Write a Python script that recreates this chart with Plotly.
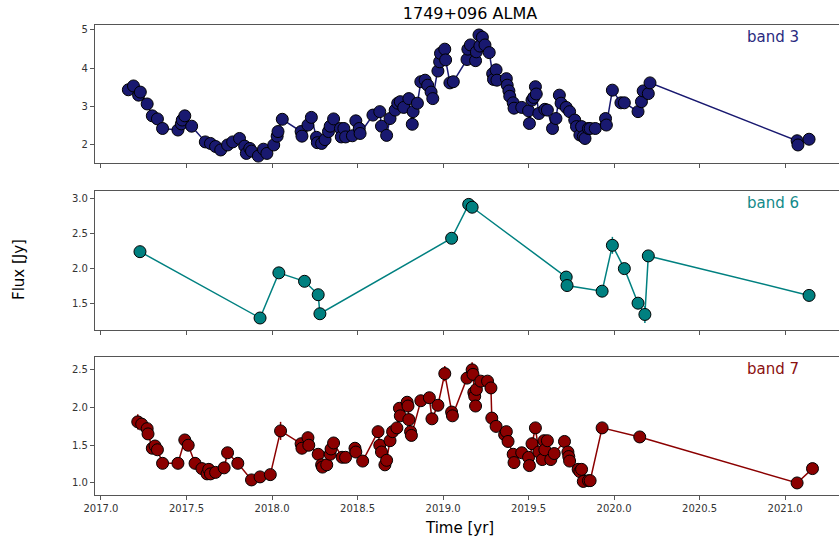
import plotly.graph_objects as go
from plotly.subplots import make_subplots

# ---------------- data ----------------
b3_time = [2017.16, 2017.19, 2017.22, 2017.23, 2017.27, 2017.30, 2017.33, 2017.36, 2017.45, 2017.47,
           2017.475, 2017.49, 2017.53, 2017.61, 2017.64, 2017.67, 2017.70, 2017.74, 2017.77, 2017.81,
           2017.84, 2017.85, 2017.87, 2017.88, 2017.92, 2017.95, 2017.97, 2018.01, 2018.03, 2018.035,
           2018.06, 2018.17, 2018.175, 2018.21, 2018.23, 2018.26, 2018.265, 2018.29, 2018.31, 2018.33,
           2018.34, 2018.36, 2018.40, 2018.405, 2018.42, 2018.43, 2018.47, 2018.49, 2018.51, 2018.515,
           2018.59, 2018.63, 2018.64, 2018.67, 2018.69, 2018.72, 2018.735, 2018.75, 2018.77, 2018.80,
           2018.82, 2018.825, 2018.85, 2018.87, 2018.895, 2018.91, 2018.93, 2018.94, 2018.97, 2018.98,
           2018.985, 2019.01, 2019.015, 2019.04, 2019.06, 2019.14, 2019.145, 2019.16, 2019.19, 2019.195,
           2019.21, 2019.215, 2019.23, 2019.245, 2019.27, 2019.29, 2019.295, 2019.31, 2019.315, 2019.37,
           2019.375, 2019.385, 2019.39, 2019.41, 2019.415, 2019.46, 2019.50, 2019.505, 2019.52, 2019.53,
           2019.54, 2019.545, 2019.56, 2019.595, 2019.61, 2019.64, 2019.66, 2019.68, 2019.69, 2019.72,
           2019.74, 2019.77, 2019.78, 2019.80, 2019.81, 2019.82, 2019.83, 2019.85, 2019.86, 2019.89,
           2019.95, 2019.955, 2019.99, 2020.04, 2020.06, 2020.14, 2020.16, 2020.17, 2020.20, 2020.21,
           2021.07, 2021.075, 2021.14]
b3_flux = [3.44, 3.54, 3.30, 3.38, 3.07, 2.76, 2.68, 2.43, 2.39, 2.55,
           2.65, 2.76, 2.49, 2.08, 2.04, 1.96, 1.87, 2.00, 2.08, 2.17,
           1.97, 1.78, 1.91, 1.84, 1.71, 1.89, 1.78, 2.00, 2.23, 2.35,
           2.67, 2.35, 2.23, 2.52, 2.72, 2.20, 2.06, 2.04, 2.14, 2.35,
           2.49, 2.68, 2.43, 2.21, 2.43, 2.21, 2.24, 2.63, 2.43, 2.30,
           2.78, 2.87, 2.49, 2.25, 2.69, 2.91, 3.09, 3.13, 2.98, 3.21,
           2.54, 2.87, 3.09, 3.65, 3.69, 3.56, 3.38, 3.21, 3.93, 4.17,
           4.39, 4.50, 4.22, 3.62, 3.65, 4.23, 4.50, 4.61, 4.20, 4.43,
           4.87, 4.58, 4.81, 4.61, 4.41, 3.86, 3.71, 3.96, 3.69, 3.73,
           3.56, 3.41, 3.27, 3.10, 2.96, 2.98, 2.89, 2.56, 3.17, 3.24,
           3.52, 3.33, 2.82, 2.93, 2.91, 2.43, 2.69, 3.30, 3.09, 2.98,
           2.87, 2.65, 2.48, 2.26, 2.48, 2.22, 2.17, 2.43, 2.43, 2.43,
           2.69, 2.52, 3.43, 3.10, 3.10, 2.87, 3.13, 3.41, 3.34, 3.62,
           2.11, 2.00, 2.15]

b6_time = [2017.228, 2017.93, 2018.04, 2018.19, 2018.27, 2018.28, 2019.05, 2019.15, 2019.17,
           2019.72, 2019.725, 2019.93, 2019.99, 2020.06, 2020.14, 2020.18, 2020.20, 2021.14]
b6_flux = [2.24, 1.30, 1.94, 1.82, 1.63, 1.36, 2.43, 2.91, 2.87,
           1.88, 1.76, 1.68, 2.33, 2.00, 1.51, 1.35, 2.18, 1.62]
b6_err = [0.03, 0.03, 0.03, 0.03, 0.04, 0.05, 0.04, 0.08, 0.04,
          0.04, 0.05, 0.04, 0.12, 0.04, 0.04, 0.12, 0.04, 0.03]

b7_time = [2017.215, 2017.238, 2017.27, 2017.275, 2017.30, 2017.316, 2017.33, 2017.36, 2017.45, 2017.49,
           2017.51, 2017.55, 2017.59, 2017.62, 2017.63, 2017.64, 2017.67, 2017.72, 2017.74, 2017.80,
           2017.88, 2017.93, 2017.99, 2018.05, 2018.17, 2018.175, 2018.21, 2018.215, 2018.27, 2018.29,
           2018.295, 2018.32, 2018.34, 2018.345, 2018.36, 2018.41, 2018.43, 2018.485, 2018.49, 2018.53,
           2018.62, 2018.63, 2018.64, 2018.66, 2018.67, 2018.69, 2018.705, 2018.73, 2018.745, 2018.75,
           2018.79, 2018.795, 2018.80, 2018.81, 2018.815, 2018.87, 2018.92, 2018.935, 2018.97, 2019.01,
           2019.05, 2019.055, 2019.14, 2019.17, 2019.175, 2019.18, 2019.185, 2019.19, 2019.195, 2019.22,
           2019.26, 2019.28, 2019.285, 2019.31, 2019.36, 2019.37, 2019.38, 2019.41, 2019.415, 2019.46,
           2019.50, 2019.505, 2019.52, 2019.54, 2019.56, 2019.58, 2019.59, 2019.595, 2019.61, 2019.63,
           2019.65, 2019.71, 2019.73, 2019.735, 2019.74, 2019.79, 2019.80, 2019.81, 2019.82, 2019.85,
           2019.86, 2019.93, 2020.15, 2021.07, 2021.16]
b7_flux = [1.81, 1.78, 1.72, 1.65, 1.46, 1.49, 1.44, 1.26, 1.26, 1.57,
           1.50, 1.26, 1.19, 1.12, 1.18, 1.12, 1.14, 1.20, 1.40, 1.26,
           1.04, 1.08, 1.11, 1.69, 1.52, 1.46, 1.60, 1.50, 1.38, 1.24,
           1.21, 1.24, 1.38, 1.45, 1.53, 1.34, 1.34, 1.46, 1.41, 1.29,
           1.68, 1.50, 1.41, 1.24, 1.30, 1.56, 1.68, 1.73, 1.99, 1.89,
           2.07, 2.02, 1.84, 1.68, 1.63, 2.09, 2.13, 1.85, 2.03, 2.45,
           1.94, 1.89, 2.39, 2.50, 2.44, 2.20, 2.15, 2.02, 2.24, 2.35,
           2.35, 2.26, 1.86, 1.75, 1.64, 1.68, 1.55, 1.38, 1.27, 1.40,
           1.34, 1.23, 1.52, 1.73, 1.41, 1.31, 1.56, 1.44, 1.56, 1.31,
           1.39, 1.55, 1.41, 1.35, 1.29, 1.18, 1.15, 1.18, 1.02, 1.03,
           1.03, 1.73, 1.61, 1.00, 1.19]
b7_err = [0.10, 0.08, 0.05, 0.05, 0.05, 0.05, 0.05, 0.04, 0.04, 0.05,
          0.05, 0.04, 0.04, 0.04, 0.08, 0.04, 0.04, 0.04, 0.05, 0.04,
          0.03, 0.03, 0.03, 0.12, 0.05, 0.05, 0.05, 0.05, 0.05, 0.10,
          0.05, 0.05, 0.05, 0.05, 0.05, 0.04, 0.04, 0.05, 0.05, 0.05,
          0.05, 0.05, 0.05, 0.05, 0.05, 0.05, 0.05, 0.05, 0.06, 0.05,
          0.05, 0.05, 0.05, 0.05, 0.05, 0.05, 0.05, 0.07, 0.05, 0.10,
          0.05, 0.05, 0.05, 0.10, 0.05, 0.05, 0.05, 0.05, 0.05, 0.05,
          0.05, 0.05, 0.05, 0.05, 0.05, 0.05, 0.05, 0.05, 0.05, 0.05,
          0.05, 0.05, 0.05, 0.05, 0.05, 0.05, 0.05, 0.05, 0.05, 0.05,
          0.05, 0.05, 0.05, 0.05, 0.05, 0.04, 0.04, 0.04, 0.04, 0.04,
          0.04, 0.04, 0.04, 0.04, 0.04]

bands = [
    ("band 3", b3_time, b3_flux, None, "#191970", "#2a2a80"),
    ("band 6", b6_time, b6_flux, b6_err, "#008080", "#138a8a"),
    ("band 7", b7_time, b7_flux, b7_err, "#8b0000", "#8b1010"),
]

x_range = [2016.965, 2021.315]
y_ranges = [[1.53, 5.13], [1.13, 3.10], [0.84, 2.67]]
y_ticks = [[2, 3, 4, 5], [1.5, 2.0, 2.5, 3.0], [1.0, 1.5, 2.0, 2.5]]
y_ticktext = [["2", "3", "4", "5"], ["1.5", "2.0", "2.5", "3.0"], ["1.0", "1.5", "2.0", "2.5"]]
x_ticks = [2017.0, 2017.5, 2018.0, 2018.5, 2019.0, 2019.5, 2020.0, 2020.5, 2021.0]
x_ticktext = ["2017.0", "2017.5", "2018.0", "2018.5", "2019.0", "2019.5", "2020.0", "2020.5", "2021.0"]

# ---------------- figure ----------------
fig = make_subplots(rows=3, cols=1, shared_xaxes=False, vertical_spacing=0.0)

domains = [[0.7064, 1.0], [0.3511, 0.6468], [0.0, 0.2936]]
FONT = "DejaVu Sans"

for i, (name, t, f, err, col, tcol) in enumerate(bands):
    order = sorted(range(len(t)), key=lambda k: t[k])
    ts = [t[k] for k in order]
    fs = [f[k] for k in order]
    tr = dict(
        x=ts, y=fs, mode="lines+markers",
        line=dict(color=col, width=1.5),
        marker=dict(size=12, color=col, line=dict(color="black", width=1)),
        showlegend=False, name=name,
    )
    if err is not None:
        es = [err[k] for k in order]
        tr["error_y"] = dict(type="data", array=es, visible=True, color=col, thickness=1.5, width=0)
    fig.add_trace(go.Scatter(**tr), row=i + 1, col=1)

    axis_common = dict(
        showline=True, mirror=True, linecolor="#555555", linewidth=1.3,
        ticks="outside", ticklen=4, tickcolor="#555555", tickwidth=1,
        showgrid=False, zeroline=False,
        tickfont=dict(family=FONT, size=10, color="#333333"),
    )
    fig.update_xaxes(range=x_range, tickvals=x_ticks, ticktext=x_ticktext,
                     showticklabels=(i == 2), row=i + 1, col=1, **axis_common)
    fig.update_yaxes(range=y_ranges[i], tickvals=y_ticks[i], ticktext=y_ticktext[i],
                     domain=domains[i], row=i + 1, col=1, **axis_common)

    yname = "y" if i == 0 else f"y{i + 1}"
    xname = "x" if i == 0 else f"x{i + 1}"
    fig.add_annotation(text=name, xref=f"{xname} domain", yref=f"{yname} domain",
                       x=0.949, y=0.913, xanchor="right", yanchor="middle", showarrow=False,
                       font=dict(family=FONT, size=15, color=tcol))

fig.update_layout(
    width=839, height=548,
    margin=dict(l=95, r=0, t=25, b=53),
    paper_bgcolor="white", plot_bgcolor="white",
    title=dict(text="1749+096 ALMA", xref="container", x=470 / 839, xanchor="center",
               yref="container", y=1 - 13 / 548, yanchor="middle",
               font=dict(family=FONT, size=16, color="black")),
    font=dict(family=FONT),
)

fig.add_annotation(text="Time [yr]", xref="paper", yref="paper",
                   x=(459 - 95) / 744, y=-33 / 470, xanchor="center", yanchor="middle",
                   showarrow=False, font=dict(family=FONT, size=15, color="black"))
fig.add_annotation(text="Flux [Jy]", xref="paper", yref="paper",
                   x=-(95 - 19) / 744, y=(495 - 270) / 470, xanchor="center", yanchor="middle",
                   textangle=-90, showarrow=False, font=dict(family=FONT, size=15, color="black"))

fig.write_html("out.html")
